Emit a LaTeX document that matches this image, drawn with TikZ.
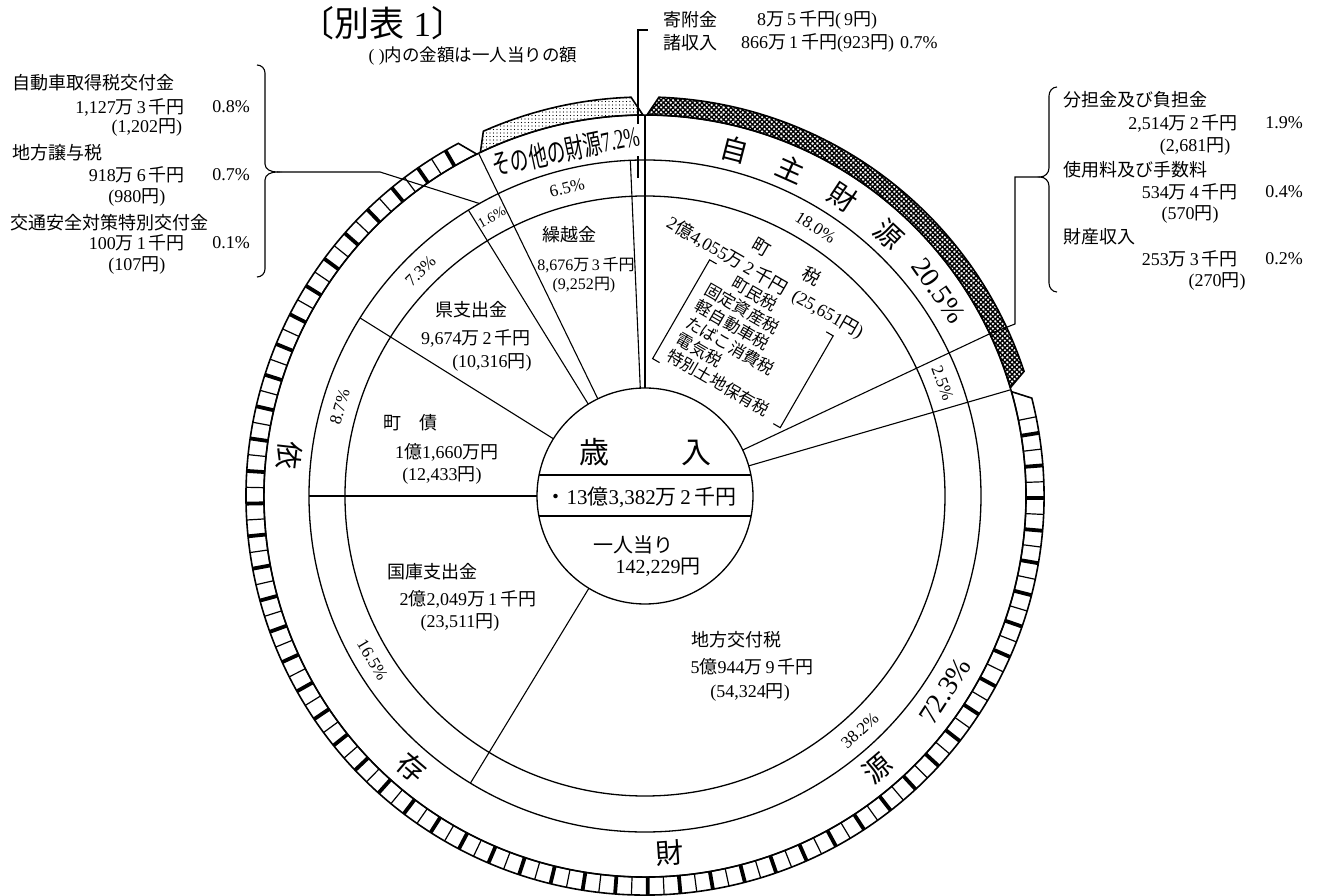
\documentclass[tikz,border=0pt]{standalone}
\usepackage{fontspec}
\usepackage{graphicx}
\setmainfont{Liberation Serif}
\newfontfamily\jpfont{Noto Sans CJK JP}
\newcommand\JP[1]{{\jpfont #1}}
\usetikzlibrary{patterns.meta}
\tikzset{
  txt/.style={inner sep=0pt,font=\fontsize{18}{20}\selectfont},
  listtxt/.style={inner sep=0pt,font=\fontsize{16.5}{18}\selectfont},
  smalltxt/.style={inner sep=0pt,font=\fontsize{16}{18}\selectfont},
  pct/.style={inner sep=0pt,font=\fontsize{17}{19}\selectfont},
  bigtxt/.style={inner sep=0pt,font=\fontsize{28}{30}\selectfont},
  ln/.style={line width=1.1pt},
  ringline/.style={line width=1.3pt},
  bandedge/.style={line width=1.6pt},
}
\begin{document}
\begin{tikzpicture}[x=1pt,y=1pt]
\path[use as bounding box,fill=white] (-645,-400) rectangle (674,496);

% ---------- outer bands ----------
% dependent sources band (film strip)
\path[fill=white] (116.2:381) arc[start angle=116.2,end angle=375.9,radius=381] -- (374.2:399) arc[start angle=374.2,end angle=117.9,radius=399] -- cycle;
\foreach \a in {120,124.7,...,373}{\draw[line width=3.8pt] (\a:381) -- (\a:399);}
\foreach \a in {122.35,127.05,...,373}{\draw[line width=1.2pt] (\a:381) -- (\a:399);}
\draw[bandedge] (116.2:381) arc[start angle=116.2,end angle=375.9,radius=381] -- (374.2:399) arc[start angle=374.2,end angle=117.9,radius=399] -- cycle;
% other sources band (dots)
\path[pattern={Dots[distance=3.5pt,radius=0.6pt]}] (90.3:381) arc[start angle=90.3,end angle=115.6,radius=381] -- (113.9:399) arc[start angle=113.9,end angle=92,radius=399] -- cycle;
\draw[bandedge] (90.3:381) arc[start angle=90.3,end angle=115.6,radius=381] -- (113.9:399) arc[start angle=113.9,end angle=92,radius=399] -- cycle;
% own sources band (crosshatch)
\path[pattern={Lines[angle=45,distance=3.4pt,line width=1.4pt]}] (16.5:381) arc[start angle=16.5,end angle=89.7,radius=381] -- (88:399) arc[start angle=88,end angle=18.2,radius=399] -- cycle;
\path[pattern={Lines[angle=-45,distance=3.4pt,line width=1.4pt]}] (16.5:381) arc[start angle=16.5,end angle=89.7,radius=381] -- (88:399) arc[start angle=88,end angle=18.2,radius=399] -- cycle;
\draw[bandedge] (16.5:381) arc[start angle=16.5,end angle=89.7,radius=381] -- (88:399) arc[start angle=88,end angle=18.2,radius=399] -- cycle;

% ---------- circles ----------
\draw[ringline] (0,0) circle[radius=381];
\draw[ringline] (0,0) circle[radius=336];
\draw[ringline] (0,0) circle[radius=300];
\draw[ringline] (0,0) circle[radius=108];
\draw[ln] (-106,21) -- (106,21);
\draw[ln] (-106,-20) -- (106,-20);

% ---------- radial boundaries ----------
\foreach \a/\r in {90/381,92.5/336,115.9/381,121.7/336,148/336,180/336,238.7/336,16.2/381,25.2/381}{
  \draw[ln] (\a:108) -- (\a:\r);
}

% ---------- title ----------
\node[font=\fontsize{35}{37}\selectfont,inner sep=0pt] (title) at (-262,473) {\JP{〔別表}\ 1\JP{〕}};
\node[font=\fontsize{17.5}{19}\selectfont,inner sep=0pt] (note) at (-172,440) {(\ )\JP{内の金額は一人当りの額}};

% ---------- top labels ----------
\node[txt,anchor=west] (kifu) at (18,476) {\JP{寄附金}};
\node[txt,anchor=west] (kifuv) at (112,476) {8\JP{万}\,5\,\JP{千円}(\,9\JP{円})};
\node[txt,anchor=west] (sho) at (18,453) {\JP{諸収入}};
\node[txt,anchor=west] (shov) at (96,453) {866\JP{万}\,1\,\JP{千円}(923\JP{円})\hspace{6pt}0.7\%};
\draw[ln] (-7,318) -- (-7,340);
\draw[ln] (-7,372) -- (-7,466) -- (3,466);

% ---------- left labels ----------
\node[txt,anchor=west] (l1) at (-633,413) {\JP{自動車取得税交付金}};
\node[txt,anchor=east] (l1a) at (-460,389) {1,127\JP{万}\,3\,\JP{千円}};
\node[txt,anchor=east] (l1p) at (-395,389) {0.8\%};
\node[txt] (l1b) at (-498,369) {(1,202\JP{円})};
\node[txt,anchor=west] (l2) at (-633,343) {\JP{地方譲与税}};
\node[txt,anchor=east] (l2a) at (-460,321) {918\JP{万}\,6\,\JP{千円}};
\node[txt,anchor=east] (l2p) at (-395,321) {0.7\%};
\node[txt] (l2b) at (-508,299) {(980\JP{円})};
\node[txt,anchor=west] (l3) at (-635,273) {\JP{交通安全対策特別交付金}};
\node[txt,anchor=east] (l3a) at (-460,253) {100\JP{万}\,1\,\JP{千円}};
\node[txt,anchor=east] (l3p) at (-395,253) {0.1\%};
\node[txt] (l3b) at (-508,231) {(107\JP{円})};
\coordinate (ltip) at (-368,324);
\draw[ln] (-388,431) to[out=0,in=90] (-380,423) -- (-380,332) to[out=270,in=180] (ltip) to[out=180,in=90] (-380,316) -- (-380,227) to[out=270,in=0] (-388,219);
\draw[ln] (ltip) -- (-265,324) -- (119.5:336);

% ---------- right labels ----------
\node[txt,anchor=west] (r1) at (418,396) {\JP{分担金及び負担金}};
\node[txt,anchor=east] (r1a) at (593,373) {2,514\JP{万}\,2\,\JP{千円}};
\node[txt,anchor=east] (r1p) at (658,373) {1.9\%};
\node[txt] (r1b) at (550,350) {(2,681\JP{円})};
\node[txt,anchor=west] (r2) at (418,326) {\JP{使用料及び手数料}};
\node[txt,anchor=east] (r2a) at (593,304) {534\JP{万}\,4\,\JP{千円}};
\node[txt,anchor=east] (r2p) at (658,304) {0.4\%};
\node[txt] (r2b) at (545,282) {(570\JP{円})};
\node[txt,anchor=west] (r3) at (418,259) {\JP{財産収入}};
\node[txt,anchor=east] (r3a) at (593,237) {253\JP{万}\,3\,\JP{千円}};
\node[txt,anchor=east] (r3p) at (658,237) {0.2\%};
\node[txt] (r3b) at (572,215) {(270\JP{円})};
\coordinate (rtip) at (395,319);
\draw[ln] (412,409) to[out=180,in=90] (404,400) -- (404,328) to[out=270,in=0] (rtip) to[out=0,in=90] (404,310) -- (404,213) to[out=270,in=180] (412,204);
\draw[ln] (rtip) -- (370,319) -- (370,172) -- (25.2:381);

% ---------- centre ----------
\node[font=\fontsize{30}{32}\selectfont,inner sep=0pt] (sainyu) at (1,44) {\JP{歳}\hspace{72pt}\JP{入}};
\node[font=\fontsize{21}{23}\selectfont,inner sep=0pt] (total) at (-4,-1) {\JP{・}13\JP{億}3,382\JP{万}\,2\,\JP{千円}};
\node[font=\fontsize{20}{22}\selectfont,inner sep=0pt] (per) at (-12,-49) {\JP{一人当り}};
\node[font=\fontsize{20}{22}\selectfont,inner sep=0pt] (perv) at (13,-71) {142,229\JP{円}};

% ---------- pie sector texts ----------
\node[txt] (kuri) at (-75,261) {\JP{繰越金}};
\node[smalltxt] (kuria) at (-59,231) {8,676\JP{万}\,3\,\JP{千円}};
\node[smalltxt] (kurib) at (-61,211) {(9,252\JP{円})};
\node[txt] (ken) at (-173,186) {\JP{県支出金}};
\node[txt] (kena) at (-169,158) {9,674\JP{万}\,2\,\JP{千円}};
\node[txt] (kenb) at (-153,134) {(10,316\JP{円})};
\node[txt] (sai) at (-234,73) {\JP{町}\hspace{18pt}\JP{債}};
\node[txt] (saia) at (-198,44) {1\JP{億}1,660\JP{万円}};
\node[txt] (saib) at (-203,21) {(12,433\JP{円})};
\node[txt] (koku) at (-212,-76) {\JP{国庫支出金}};
\node[txt] (kokua) at (-177,-103) {2\JP{億}2,049\JP{万}\,1\,\JP{千円}};
\node[txt] (kokub) at (-185,-126) {(23,511\JP{円})};
\node[txt] (chiho) at (91,-144) {\JP{地方交付税}};
\node[txt] (chihoa) at (107,-171) {5\JP{億}944\JP{万}\,9\,\JP{千円}};
\node[txt] (chihob) at (105,-196) {(54,324\JP{円})};

\begin{scope}[shift={(23,274)},rotate=-30]
  \node[txt,anchor=west,rotate=-30] (choa) at (0,0) {2\JP{億}4,055\JP{万}\,2\,\JP{千円}\hspace{8pt}(25,651\JP{円})};
  \node[txt,rotate=-30] (cho1) at (94,25) {\JP{町}};
  \node[txt,rotate=-30] (cho2) at (151,25) {\JP{税}};
  \node[listtxt,anchor=west,rotate=-30] (z1) at (86,-19) {\JP{町民税}};
  \node[listtxt,anchor=west,rotate=-30] (z2) at (66,-38) {\JP{固定資産税}};
  \node[listtxt,anchor=west,rotate=-30] (z3) at (66,-57) {\JP{軽自動車税}};
  \node[listtxt,anchor=west,rotate=-30] (z4) at (66,-76) {\JP{たばこ消費税}};
  \node[listtxt,anchor=west,rotate=-30] (z5) at (66,-95) {\JP{電気税}};
  \node[listtxt,anchor=west,rotate=-30] (z6) at (66,-114) {\JP{特別土地保有税}};
  \draw[ln] (63,-12) -- (55,-12) -- (55,-126) -- (63,-126);
  \draw[ln] (192,-16) -- (200,-16) -- (200,-122) -- (192,-122);
\end{scope}

% ---------- percentage ring ----------
\node[pct,rotate=14.2] (p65) at (104.2:318) {6.5\%};
\node[inner sep=0pt,font=\fontsize{14}{15}\selectfont,rotate=28.8] (p16) at (118.8:318) {1.6\%};
\node[pct,rotate=44.9] (p73) at (134.9:318) {7.3\%};
\node[pct,rotate=73.7] (p87) at (163.7:318) {8.7\%};
\node[pct,rotate=-59] (p165) at (211:318) {16.5\%};
\node[pct,rotate=42.5] (p382) at (-47.5:318) {38.2\%};
\node[pct,rotate=-69.3] (p25) at (20.7:318) {2.5\%};
\node[pct,rotate=-32.4] (p18) at (57.6:318) {18.0\%};

% ---------- group ring ----------
\node[bigtxt,rotate=-14.5] (j1) at (75.5:358) {\JP{自}};
\node[bigtxt,rotate=-24] (j2) at (66:358) {\JP{主}};
\node[bigtxt,rotate=-33.5] (j3) at (56.5:358) {\JP{財}};
\node[bigtxt,rotate=-43] (j4) at (47:358) {\JP{源}};
\node[bigtxt,rotate=-55] (j5) at (35:358) {20.5\%};
\node[inner sep=0pt,rotate=12] (sono) at (102.9:355) {\scalebox{0.66}[1]{\fontsize{28}{30}\selectfont\JP{その他の財源}7.2\%}};
\node[bigtxt,rotate=263.5] (i1) at (173.5:358) {\JP{依}};
\node[bigtxt,rotate=319.3] (i2) at (229.3:358) {\JP{存}};
\node[bigtxt,rotate=4] (i3) at (274:358) {\JP{財}};
\node[bigtxt,rotate=40.4] (i4) at (310.4:358) {\JP{源}};
\node[bigtxt,rotate=57] (i5) at (327:358) {72.3\%};
\end{tikzpicture}
\end{document}
